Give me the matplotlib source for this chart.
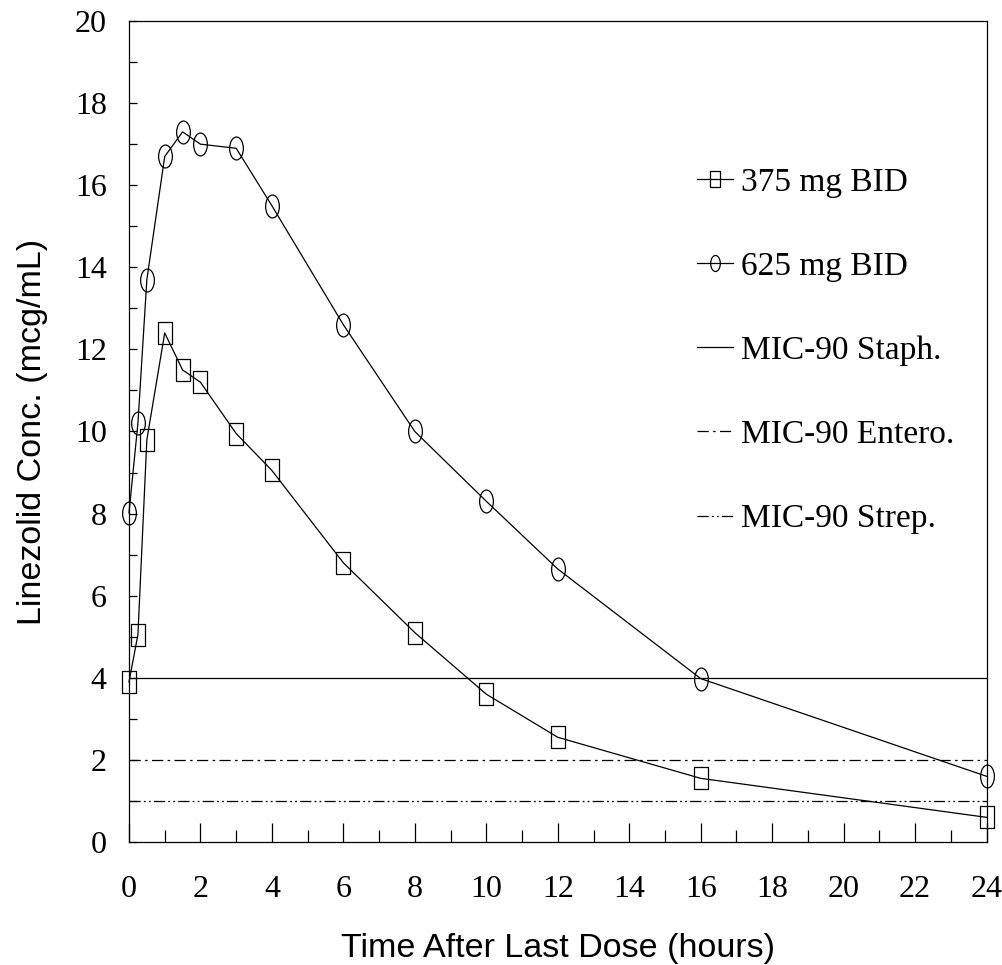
import matplotlib

matplotlib.use("Agg")
import matplotlib.pyplot as plt
from matplotlib.path import Path
from matplotlib.transforms import Affine2D
from matplotlib.ticker import MultipleLocator

# time after last dose (hours)
times = [0, 0.25, 0.5, 1, 1.5, 2, 3, 4, 6, 8, 10, 12, 16, 24]
conc_375 = [3.9, 5.05, 9.8, 12.4, 11.5, 11.2, 9.95, 9.05, 6.8, 5.1, 3.6, 2.55, 1.55, 0.6]
conc_625 = [8.02, 10.2, 13.7, 16.7, 17.3, 17.0, 16.9, 15.5, 12.6, 10.0, 8.3, 6.65, 3.98, 1.6]

mic_labels = ["MIC-90 Staph.", "MIC-90 Entero.", "MIC-90 Strep."]
mic_values = [4, 2, 1]
mic_styles = ["-", (0, (9, 3.5, 2, 3.5)), (0, (9, 2.5, 1.5, 2.5, 1.5, 2.5))]

serif = ["Liberation Serif", "DejaVu Serif"]
sans = ["Liberation Sans", "DejaVu Sans"]

# tall markers (the original plot stretches them vertically)
tall = Affine2D().scale(0.6, 1.0)
ellipse = Path.unit_circle().transformed(tall)
box = Path.unit_rectangle().transformed(Affine2D().translate(-0.5, -0.5)).transformed(tall)

fig = plt.figure(figsize=(10.03, 9.65), dpi=100)
ax = fig.add_axes([0.1286, 0.1275, 0.855, 0.8507])

lw = 0.9
ax.plot(times, conc_375, color="black", lw=lw, marker=box, ms=16.5,
        mfc="none", mec="black", mew=lw, label="375 mg BID", clip_on=False)
ax.plot(times, conc_625, color="black", lw=lw, marker=ellipse, ms=16.5,
        mfc="none", mec="black", mew=lw, label="625 mg BID", clip_on=False)
for lab, val, ls in zip(mic_labels, mic_values, mic_styles):
    ax.plot([0, 24], [val, val], color="black", lw=lw, linestyle=ls, label=lab)

ax.set_xlim(0, 24)
ax.set_ylim(0, 20)
ax.xaxis.set_major_locator(MultipleLocator(2))
ax.xaxis.set_minor_locator(MultipleLocator(1))
ax.yaxis.set_major_locator(MultipleLocator(2))
ax.yaxis.set_minor_locator(MultipleLocator(1))
ax.tick_params(axis="both", which="both", direction="in", width=0.9,
               top=False, right=False)
ax.tick_params(axis="x", which="major", length=14, pad=24)
ax.tick_params(axis="x", which="minor", length=9)
ax.tick_params(axis="y", which="both", length=6, pad=16)
for lbl in ax.get_xticklabels() + ax.get_yticklabels():
    lbl.set_family(serif)
    lbl.set_fontsize(23)
for sp in ax.spines.values():
    sp.set_linewidth(0.9)

ax.set_xlabel("Time After Last Dose (hours)", family=sans, fontsize=24.5, labelpad=21)
ax.set_ylabel("Linezolid Conc. (mcg/mL)", family=sans, fontsize=24.5, labelpad=19)

ax.legend(loc="upper left", bbox_to_anchor=(0.662, 0.822), frameon=False,
          prop={"family": serif, "size": 24}, labelspacing=1.61,
          handlelength=1.08, handletextpad=0.25, markerscale=0.7,
          borderpad=0, borderaxespad=0)

fig.savefig("out.png", dpi=100)
